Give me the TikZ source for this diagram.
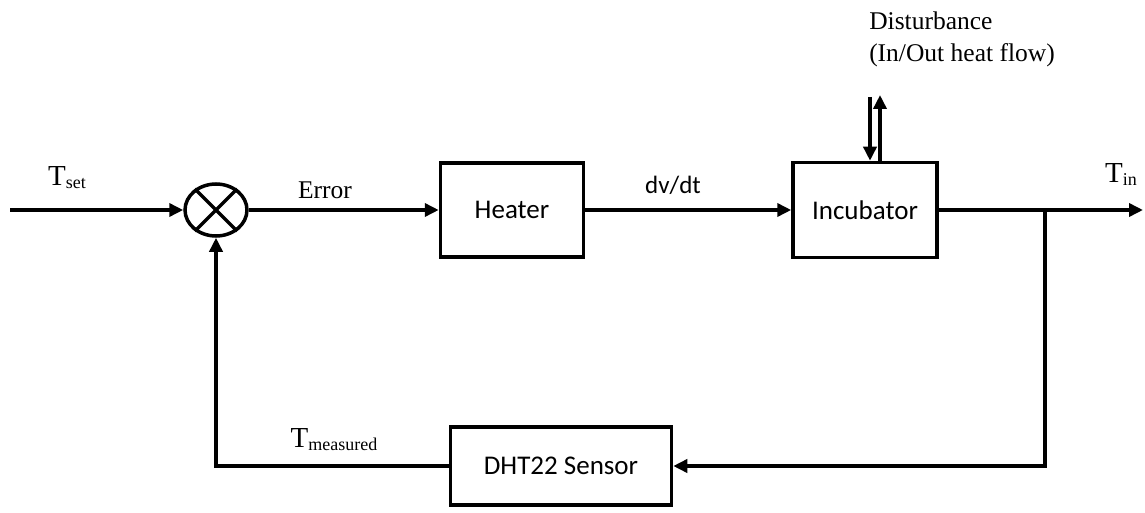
\documentclass[tikz,border=0pt]{standalone}
\usepackage{fontspec}
\setmainfont{Liberation Serif}
\newfontfamily\blockfont{Carlito}
\usetikzlibrary{arrows.meta,positioning,shapes.geometric}
\newcommand{\sigsub}[1]{\raisebox{-3pt}{\fontsize{18}{18}\selectfont #1}}

\begin{document}
\begin{tikzpicture}[
  x=1pt, y=-1pt,
  block/.style={draw, line width=3.5pt, fill=white, minimum width=143pt, minimum height=94pt, font=\blockfont\fontsize{27}{32}\selectfont},
  sumjn/.style={draw, ellipse, line width=3.5pt, minimum width=62pt, minimum height=52pt, inner sep=0pt},
  lbl/.style={font=\fontsize{25.5}{32}\selectfont, inner sep=0pt},
  tlbl/.style={font=\fontsize{29}{32}\selectfont, inner sep=0pt},
  sig/.style={-{Triangle[length=14pt, width=13pt]}, line width=3.5pt},
  wire/.style={line width=3.5pt}
]
  \useasboundingbox (0,0) rectangle (1145,513);

  \node[sumjn] (sum) at (216,210) {};
  \draw[wire] (sum.45) -- (sum.225) (sum.135) -- (sum.315);
  \node[block, right=190pt of sum] (heater) {Heater};
  \node[block, minimum width=144pt, minimum height=95pt, right=206pt of heater] (incub) {Incubator};
  \node[block, minimum width=221pt, minimum height=78pt] (sensor) at (561,466) {DHT22 Sensor};

  \coordinate (tsetin) at (10,210);
  \coordinate (tout) at (1143,210);
  \coordinate (tap) at (1045,210);
  \coordinate (distdown) at (870,97);
  \coordinate (distup) at (880,95);

  \draw[sig] (tsetin) -- (sum);
  \draw[sig] (sum) -- (heater);
  \draw[sig] (heater) -- (incub);
  \draw[sig] (incub) -- (tout);
  \draw[sig] (tap) |- (sensor);
  \draw[sig] (sensor) -| (sum);
  \draw[sig] (distdown) -- (distdown |- incub.north);
  \draw[sig] (distup |- incub.north) -- (distup);

  \node[tlbl] (tsetlbl) at (67,178) {T\sigsub{set}};
  \node[lbl] (errlbl) at (325,190) {Error};
  \node[lbl, font=\blockfont\fontsize{25}{30}\selectfont] (dvdtlbl) at (673,185) {dv/dt};
  \node[lbl, align=left] (distlbl) at (962,39) {Disturbance\\(In/Out heat flow)};
  \node[tlbl] (tinlbl) at (1121,175) {T\sigsub{in}};
  \node[tlbl] (tmeaslbl) at (334,440) {T\sigsub{measured}};
\end{tikzpicture}
\end{document}
